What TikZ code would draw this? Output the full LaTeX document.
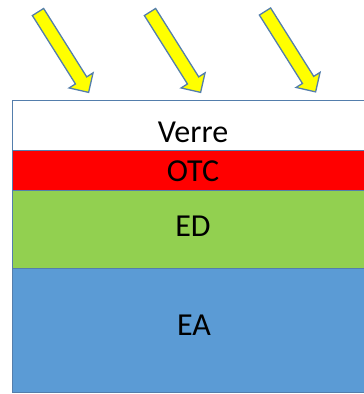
\documentclass[tikz,border=0pt]{standalone}
\usepackage{fontspec}
\setmainfont{Carlito}
\usetikzlibrary{shapes.arrows}
\definecolor{edge}{RGB}{84,126,172}
\definecolor{otcred}{RGB}{255,0,0}
\definecolor{edgreen}{RGB}{146,208,80}
\definecolor{eablue}{RGB}{91,155,213}
\definecolor{sun}{RGB}{255,255,0}
\tikzset{
  ray/.style={single arrow, draw=edge, line width=1.3pt, fill=sun,
    inner sep=6pt, outer sep=0pt, minimum height=95pt,
    single arrow head extend=7.5pt, shape border rotate=0,
    anchor=tail, rotate=-57.8},
  layer/.style={draw=edge, line width=1pt, anchor=north west,
    minimum width=380pt, inner sep=0pt, outer sep=0pt},
  tag/.style={anchor=base, inner sep=0pt, font=\fontsize{32}{38}\selectfont}
}
\begin{document}
\begin{tikzpicture}[x=1pt,y=1pt]
  \useasboundingbox (0,0) rectangle (364,-394);
  \clip (0,0) rectangle (364,-394);
  % incoming light
  \node[ray] (r1) at (38,-12) {};
  \node[ray] (r2) at (150,-12) {};
  \node[ray] (r3) at (265,-11.5) {};
  % cell stack
  \node[layer, fill=white,    minimum height=50pt]  (verre) at (12,-100) {};
  \node[layer, fill=otcred,   minimum height=40pt]  (otc)   at (12,-150) {};
  \node[layer, fill=edgreen,  minimum height=78pt]  (ed)    at (12,-190) {};
  \node[layer, fill=eablue,   minimum height=124pt] (ea)    at (12,-268) {};
  % layer names
  \node[tag] (tverre) at (193,-142) {Verre};
  \node[tag] (totc)   at (193,-181) {OTC};
  \node[tag] (ted)    at (193,-236) {ED};
  \node[tag] (tea)    at (194,-335) {EA};
\end{tikzpicture}
\end{document}
